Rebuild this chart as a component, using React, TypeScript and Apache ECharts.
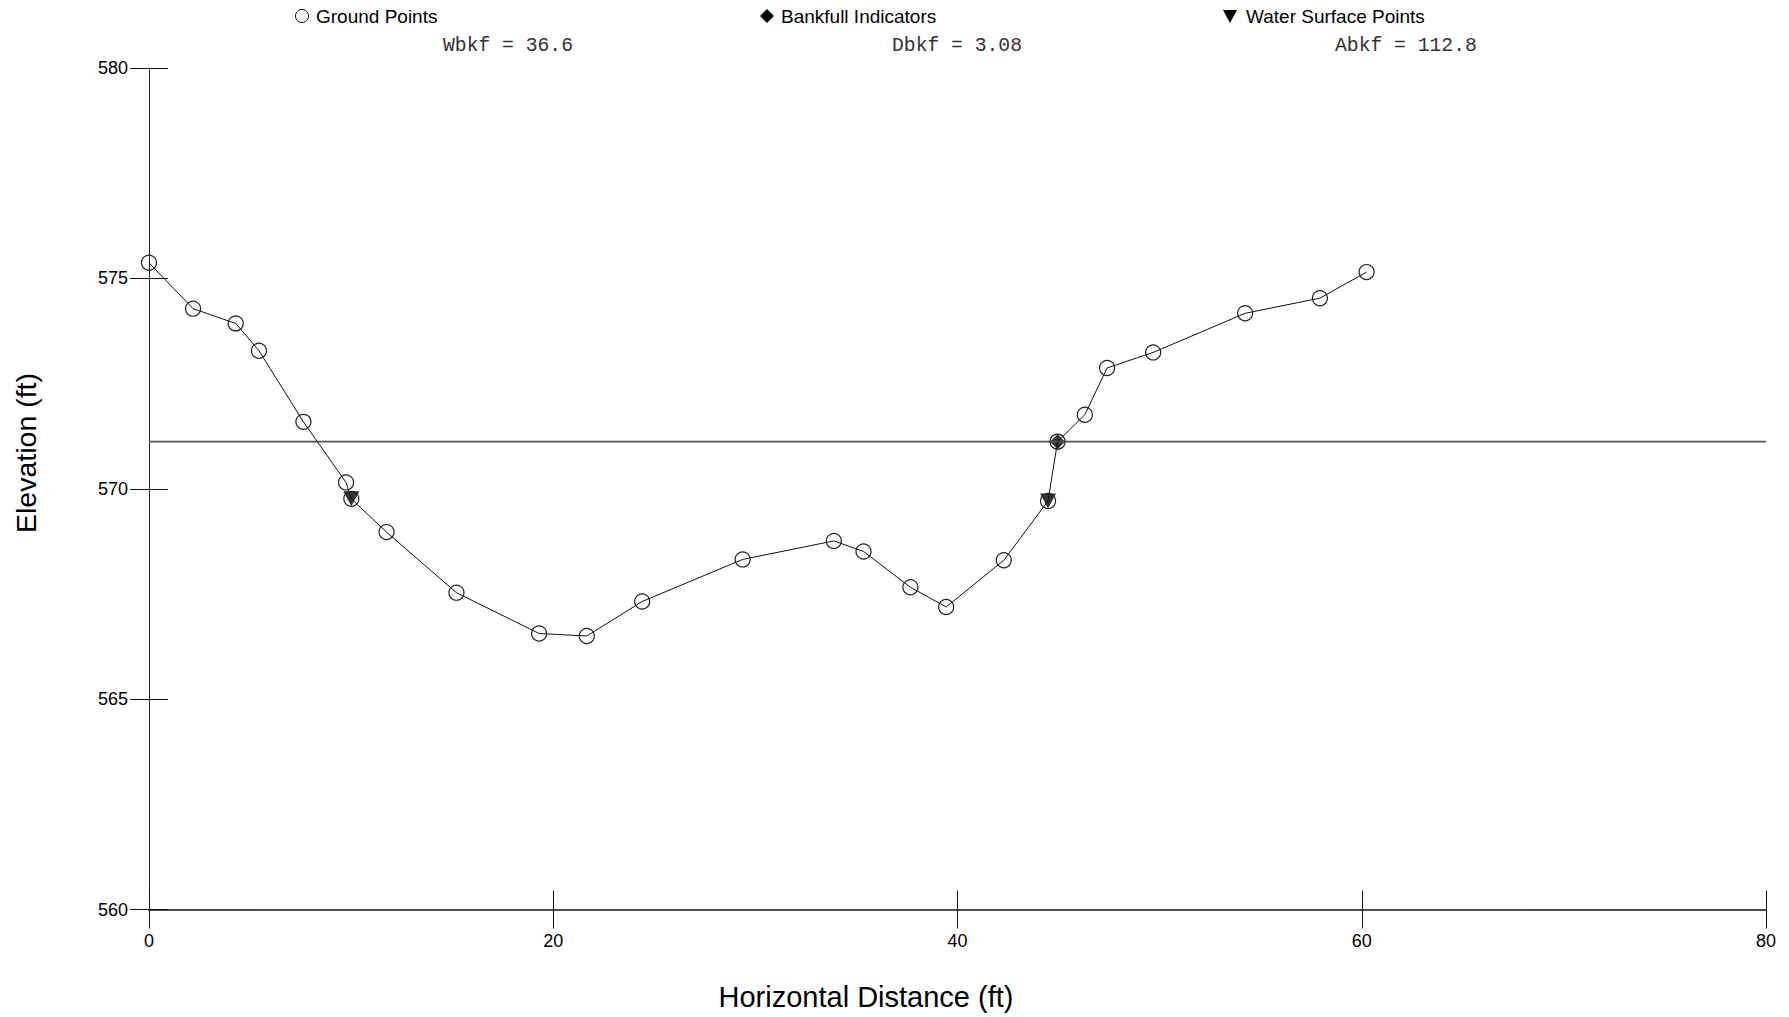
import React, { useEffect, useRef } from "react";
import * as echarts from "echarts";

const groundX = [0, 2.18, 4.29, 5.44, 7.64, 9.75, 10.01, 11.75, 15.21, 19.3, 21.66, 24.4, 29.37, 33.88, 35.35, 37.67, 39.44, 42.29, 44.48, 44.95, 46.3, 47.4, 49.68, 54.23, 57.93, 60.24];
const groundY = [575.37, 574.28, 573.93, 573.28, 571.59, 570.15, 569.76, 568.97, 567.53, 566.56, 566.5, 567.32, 568.32, 568.76, 568.51, 567.66, 567.19, 568.3, 569.71, 571.12, 571.76, 572.87, 573.24, 574.17, 574.53, 575.15];
const waterX = [10.01, 44.48];
const waterY = [569.76, 569.71];
const bankfullX = [44.95];
const bankfullY = [571.12];
const bankfullElev = 571.12;
const xRange = [0, 80];
const yRange = [560, 580];
const stats = ["Wbkf = 36.6", "Dbkf = 3.08", "Abkf = 112.8"];
const legendNames = ["Ground Points", "Bankfull Indicators", "Water Surface Points"];

const SANS = "'Liberation Sans', Arial, sans-serif";
const MONO = "'Liberation Mono', 'Courier New', monospace";

export default function App() {
  const ref = useRef<HTMLDivElement>(null);
  useEffect(() => {
    if (!ref.current) return;
    const chart = echarts.init(ref.current, null, { renderer: "svg" });
    const zip = (xs: number[], ys: number[]) => xs.map((x, i) => [x, ys[i]]);
    const baseY = {
      type: "value",
      min: yRange[0],
      max: yRange[1],
      interval: 5,
      position: "left",
      splitLine: { show: false },
    };
    const baseX = {
      type: "value",
      min: xRange[0],
      max: xRange[1],
      interval: 20,
      position: "bottom",
      splitLine: { show: false },
    };
    const option: any = {
      animation: false,
      backgroundColor: "#fff",
      grid: { left: 149, right: 23, top: 68, bottom: 107.5 },
      xAxis: [
        {
          ...baseX,
          axisLine: { show: true, lineStyle: { color: "#111", width: 1.6 } },
          axisTick: { show: true, length: 19, lineStyle: { color: "#111", width: 1 } },
          axisLabel: { margin: 22, fontSize: 18, color: "#000", fontFamily: SANS },
        },
        {
          ...baseX,
          axisLine: { show: false },
          axisTick: { show: true, inside: true, length: 19, lineStyle: { color: "#111", width: 1 } },
          axisLabel: { show: false },
        },
      ],
      yAxis: [
        {
          ...baseY,
          axisLine: { show: true, lineStyle: { color: "#222", width: 1 } },
          axisTick: { show: true, length: 19, lineStyle: { color: "#111", width: 1 } },
          axisLabel: { margin: 21, fontSize: 18, color: "#000", fontFamily: SANS },
        },
        {
          ...baseY,
          axisLine: { show: false },
          axisTick: { show: true, inside: true, length: 19, lineStyle: { color: "#111", width: 1 } },
          axisLabel: { show: false },
        },
      ],
      series: [
        {
          name: "Bankfull Elevation",
          type: "line",
          data: [[xRange[0], bankfullElev], [xRange[1], bankfullElev]],
          symbol: "none",
          lineStyle: { color: "#555", width: 1.6 },
          silent: true,
        },
        {
          name: legendNames[0],
          type: "line",
          data: zip(groundX, groundY),
          symbol: "circle",
          symbolSize: 15,
          showAllSymbol: true,
          lineStyle: { color: "#111", width: 1 },
          itemStyle: { color: "rgba(0,0,0,0)", borderColor: "#222", borderWidth: 1.2 },
        },
        {
          name: legendNames[2],
          type: "scatter",
          data: zip(waterX, waterY),
          symbol: "triangle",
          symbolRotate: 180,
          symbolSize: [16, 15],
          itemStyle: { color: "#000" },
        },
        {
          name: legendNames[1],
          type: "scatter",
          data: zip(bankfullX, bankfullY),
          symbol: "diamond",
          symbolSize: [15, 15],
          itemStyle: { color: "#000" },
        },
      ],
      graphic: [
        { type: "circle", shape: { cx: 302, cy: 16, r: 6.5 }, style: { fill: "none", stroke: "#000", lineWidth: 1 } },
        { type: "text", x: 316, y: 16, style: { text: legendNames[0], font: `19px ${SANS}`, fill: "#000", verticalAlign: "middle" } },
        { type: "polygon", shape: { points: [[767, 9], [774, 16], [767, 23], [760, 16]] }, style: { fill: "#000" } },
        { type: "text", x: 781, y: 16, style: { text: legendNames[1], font: `19px ${SANS}`, fill: "#000", verticalAlign: "middle" } },
        { type: "polygon", shape: { points: [[1223, 10], [1237, 10], [1230, 23]] }, style: { fill: "#000" } },
        { type: "text", x: 1246, y: 16, style: { text: legendNames[2], font: `19px ${SANS}`, fill: "#000", verticalAlign: "middle" } },
        { type: "text", x: 443, y: 46, style: { text: stats[0], font: `19.7px ${MONO}`, fill: "#333", verticalAlign: "middle" } },
        { type: "text", x: 892, y: 46, style: { text: stats[1], font: `19.7px ${MONO}`, fill: "#333", verticalAlign: "middle" } },
        { type: "text", x: 1335, y: 46, style: { text: stats[2], font: `19.7px ${MONO}`, fill: "#333", verticalAlign: "middle" } },
        { type: "text", x: 866, y: 997, style: { text: "Horizontal Distance (ft)", font: `29px ${SANS}`, fill: "#000", align: "center", verticalAlign: "middle" } },
        { type: "text", x: 26, y: 453, rotation: Math.PI / 2, style: { text: "Elevation (ft)", font: `28.5px ${SANS}`, fill: "#000", align: "center", verticalAlign: "middle" } },
      ],
    };
    chart.setOption(option);
    return () => chart.dispose();
  }, []);
  return <div ref={ref} style={{ position: "fixed", left: 0, top: 0, width: 1789, height: 1017, background: "#fff" }} />;
}
